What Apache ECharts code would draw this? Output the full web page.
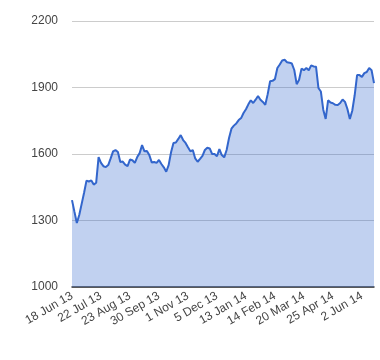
<!DOCTYPE html>
<html>
<head>
<meta charset="utf-8">
<script src="https://cdn.jsdelivr.net/npm/echarts@6/dist/echarts.min.js"></script>
<style>html,body{margin:0;padding:0;background:#fff;}#c{width:380px;height:360px;}</style>
</head>
<body>
<div id="c"></div>
<script>
// Tick labels on the x axis (one every 12 samples, samples are ~2 trading days apart)
var tickLabels = ['18 Jun 13','22 Jul 13','23 Aug 13','30 Sep 13','1 Nov 13','5 Dec 13','13 Jan 14','14 Feb 14','20 Mar 14','25 Apr 14','2 Jun 14'];
var labelStep = 12;
// Series values
var values = [
1392,1340,1289,1325,1375,1425,1480,1476,1481,1462,
1470,1586,1560,1545,1541,1550,1580,1612,1618,1609,
1564,1566,1552,1545,1575,1572,1560,1586,1604,1640,
1612,1614,1595,1562,1564,1560,1573,1555,1540,1520,
1550,1608,1650,1652,1668,1685,1663,1650,1630,1612,
1618,1580,1565,1578,1592,1618,1628,1625,1600,1600,
1590,1622,1595,1585,1618,1672,1714,1728,1738,1753,
1762,1785,1802,1824,1842,1830,1845,1862,1845,1835,
1822,1870,1928,1930,1938,1988,2004,2022,2025,2014,
2012,2008,1979,1915,1935,1985,1978,1988,1978,2000,
1995,1994,1898,1882,1800,1758,1842,1832,1829,1822,
1821,1830,1846,1835,1803,1758,1795,1865,1956,1956,
1948,1965,1970,1988,1978,1920
];
var yTicks = [1000, 1300, 1600, 1900, 2200];

var seriesData = values.map(function (v, i) { return [i, v]; });
var chart = echarts.init(document.getElementById('c'), null, {renderer: 'canvas'});
chart.setOption({
  animation: false,
  backgroundColor: '#ffffff',
  grid: {left: 72, right: 6, top: 21, bottom: 73, containLabel: false},
  xAxis: {
    type: 'value',
    min: 0,
    max: values.length - 1,
    interval: labelStep,
    axisLine: {show: true, onZero: false, lineStyle: {color: '#333333', width: 1.5}},
    axisTick: {show: false},
    splitLine: {show: false},
    axisLabel: {
      rotate: 30,
      margin: 8,
      color: '#444444',
      fontSize: 12,
      fontFamily: 'Liberation Sans, Arial, sans-serif',
      showMaxLabel: false,
      formatter: function (v) {
        var k = v / labelStep;
        return (k === Math.round(k) && tickLabels[k]) ? tickLabels[k] : '';
      }
    }
  },
  yAxis: {
    type: 'value',
    min: yTicks[0],
    max: yTicks[yTicks.length - 1],
    interval: yTicks[1] - yTicks[0],
    axisLine: {show: false},
    axisTick: {show: false},
    splitLine: {show: true, lineStyle: {color: '#cccccc', width: 1}},
    axisLabel: {
      margin: 14,
      color: '#444444',
      fontSize: 12,
      fontFamily: 'Liberation Sans, Arial, sans-serif',
      formatter: function (v) { return String(v); }
    }
  },
  series: [{
    type: 'line',
    data: seriesData,
    showSymbol: false,
    symbol: 'none',
    lineStyle: {color: '#3366cc', width: 2},
    areaStyle: {color: '#3366cc', opacity: 0.3, origin: 'start'},
    z: 2
  }]
});
</script>
</body>
</html>
